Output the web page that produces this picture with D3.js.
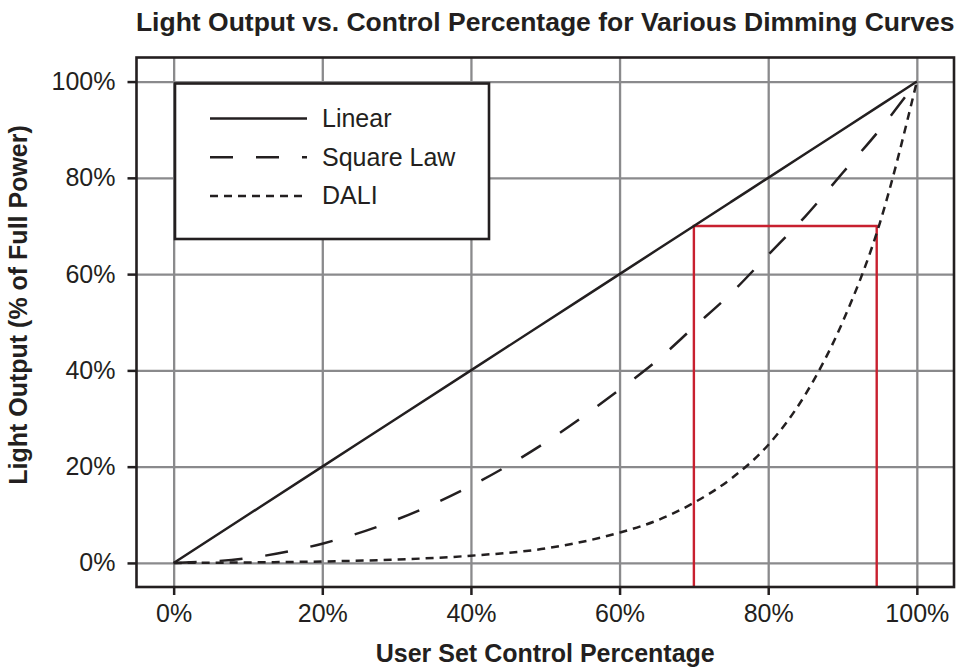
<!DOCTYPE html>
<html lang="en">
<head>
    <meta charset="UTF-8">
    <title>Light Output vs. Control Percentage</title>
    <script src="https://cdn.jsdelivr.net/npm/d3@7"></script>
    <style>
        body { margin: 0; background: #fff; }
        svg text { font-family: "Liberation Sans", Arial, Helvetica, sans-serif; fill: #231f20; }
    </style>
</head>
<body>
    <div id="chart"></div>
    <script>
        // values (percent)
        const controlPct = [0, 10, 20, 30, 40, 50, 60, 65, 70, 75, 80, 85, 90, 95, 100]
        const linearOut  = [0, 10, 20, 30, 40, 50, 60, 65, 70, 75, 80, 85, 90, 95, 100]
        const squareOut  = [0, 1, 4, 9, 16, 25, 36, 42, 49, 56, 64, 72, 81, 90, 100]
        const daliOut    = [0, 0.1, 0.3, 0.7, 1.5, 3, 6.3, 8.8, 12.5, 17.5, 24.5, 35, 50, 70.5, 100]
        const tickVals   = [0, 20, 40, 60, 80, 100]
        const seriesNames = ["Linear", "Square Law", "DALI"]
        // red highlight box: x from 70 to 94.6, up to 70% output
        const boxX = [70, 94.6]
        const boxY = 70

        const width = 956, height = 669
        const margin = {top: 57.5, right: 2, bottom: 82, left: 136.5}
        const w = width - margin.left - margin.right
        const h = height - margin.top - margin.bottom

        const svg = d3.select("#chart").append("svg")
            .attr("width", width)
            .attr("height", height)

        const g = svg.append("g").attr("transform", `translate(${margin.left},${margin.top})`)

        const x = d3.scaleLinear().domain([-5, 105]).range([0, w])
        const y = d3.scaleLinear().domain([-5, 105]).range([h, 0])

        // grid
        g.append("g").attr("transform", `translate(0,${h})`)
            .call(d3.axisBottom(x).tickValues(tickVals).tickSize(-h).tickFormat(""))
            .call(a => a.select(".domain").remove())
            .selectAll("line").attr("stroke", "#8a8a8c").attr("stroke-width", 2.3)
        g.append("g")
            .call(d3.axisLeft(y).tickValues(tickVals).tickSize(-w).tickFormat(""))
            .call(a => a.select(".domain").remove())
            .selectAll("line").attr("stroke", "#8a8a8c").attr("stroke-width", 2.3)

        // axes
        const xAxis = g.append("g").attr("transform", `translate(0,${h})`)
            .call(d3.axisBottom(x).tickValues(tickVals).tickSize(8).tickPadding(9).tickFormat(d => d + "%"))
        const yAxis = g.append("g")
            .call(d3.axisLeft(y).tickValues(tickVals).tickSize(9).tickPadding(12).tickFormat(d => d + "%"))
        ;[xAxis, yAxis].forEach(a => {
            a.select(".domain").remove()
            a.selectAll("line").attr("stroke", "#231f20").attr("stroke-width", 2.5)
            a.selectAll("text").attr("font-size", 25).attr("font-family", null).attr("fill", "#231f20")
            a.attr("font-family", null)
        })

        // red box
        g.append("path")
            .attr("d", `M${x(boxX[0])},${h} L${x(boxX[0])},${y(boxY)} L${x(boxX[1])},${y(boxY)} L${x(boxX[1])},${h}`)
            .attr("fill", "none")
            .attr("stroke", "#c8202f")
            .attr("stroke-width", 2.4)

        // curves
        const dashes = ["none", "23,23", "8,6"]
        const outputs = [linearOut, squareOut, daliOut]
        const line = d3.line().x(d => x(d[0])).y(d => y(d[1])).curve(d3.curveMonotoneX)
        outputs.forEach((vals, i) => {
            g.append("path")
                .datum(controlPct.map((c, j) => [c, vals[j]]))
                .attr("d", line)
                .attr("fill", "none")
                .attr("stroke", "#231f20")
                .attr("stroke-width", 2.5)
                .attr("stroke-dasharray", dashes[i])
        })

        // frame
        g.append("rect")
            .attr("width", w).attr("height", h)
            .attr("fill", "none")
            .attr("stroke", "#231f20")
            .attr("stroke-width", 2.6)

        // legend
        const lg = g.append("g").attr("transform", "translate(38.5,26)")
        lg.append("rect")
            .attr("width", 314).attr("height", 155.5)
            .attr("fill", "#fff")
            .attr("stroke", "#231f20")
            .attr("stroke-width", 2.6)
        seriesNames.forEach((name, i) => {
            const ly = 35 + i * 38.7
            lg.append("line")
                .attr("x1", 35).attr("x2", 132)
                .attr("y1", ly).attr("y2", ly)
                .attr("stroke", "#231f20")
                .attr("stroke-width", 2.5)
                .attr("stroke-dasharray", dashes[i])
            lg.append("text")
                .attr("x", 147).attr("y", ly + 8.5)
                .attr("font-size", 25)
                .text(name)
        })

        // titles
        svg.append("text")
            .attr("x", margin.left + w / 2).attr("y", 31)
            .attr("text-anchor", "middle")
            .attr("font-size", 26.5).attr("font-weight", "bold")
            .text("Light Output vs. Control Percentage for Various Dimming Curves")
        svg.append("text")
            .attr("x", margin.left + w / 2).attr("y", 662)
            .attr("text-anchor", "middle")
            .attr("font-size", 25).attr("font-weight", "bold")
            .text("User Set Control Percentage")
        svg.append("text")
            .attr("transform", "translate(27,305) rotate(-90)")
            .attr("text-anchor", "middle")
            .attr("font-size", 25).attr("font-weight", "bold")
            .text("Light Output (% of Full Power)")
    </script>
</body>
</html>
